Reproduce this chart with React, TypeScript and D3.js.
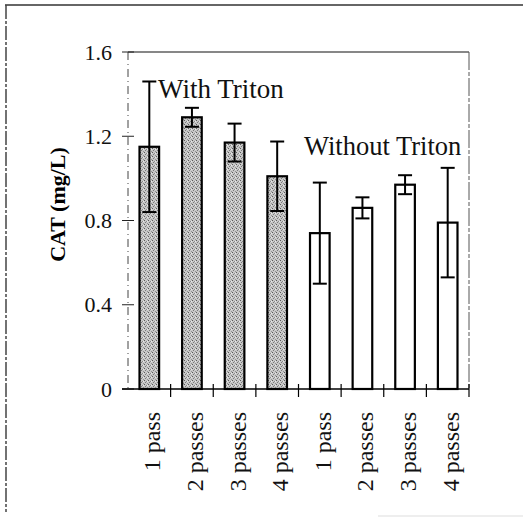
import React, { useEffect, useRef } from 'react';
import * as d3 from 'd3';

// values
const passLabels = ['1 pass', '2 passes', '3 passes', '4 passes'];
const withTriton = [1.15, 1.29, 1.17, 1.01];
const withTritonErr = [0.31, 0.045, 0.09, 0.165];
const withoutTriton = [0.74, 0.86, 0.97, 0.79];
const withoutTritonErr = [0.24, 0.05, 0.045, 0.26];
const yTicks = [0, 0.4, 0.8, 1.2, 1.6];

export default function App() {
  const ref = useRef<SVGSVGElement>(null);

  useEffect(() => {
    const svg = d3.select(ref.current);
    svg.selectAll('*').remove();

    const rows = [
      ...passLabels.map((p, i) => ({ key: 'w' + i, label: p, value: withTriton[i], err: withTritonErr[i], triton: true })),
      ...passLabels.map((p, i) => ({ key: 'o' + i, label: p, value: withoutTriton[i], err: withoutTritonErr[i], triton: false })),
    ];

    const left = 128, right = 469, top = 52, bottom = 389;
    const x = d3.scaleBand<string>().domain(rows.map(d => d.key)).range([left, right]).padding(0);
    const y = d3.scaleLinear().domain([0, 1.6]).range([bottom, top]);
    const barW = x.bandwidth() * 0.46;
    const capW = 14;
    const font = '"Liberation Serif", "Times New Roman", serif';

    // stipple fill for the Triton bars
    const defs = svg.append('defs');
    const pat = defs.append('pattern').attr('id', 'stipple').attr('patternUnits', 'userSpaceOnUse')
      .attr('width', 4).attr('height', 4);
    pat.append('rect').attr('width', 4).attr('height', 4).attr('fill', '#c8c8c8');
    [[0, 0, '#5a5a5a'], [2, 1, '#8a8a8a'], [1, 2, '#7a7a7a'], [3, 3, '#929292'], [3, 1, '#e8e8e8']].forEach(([px, py, c]) => {
      pat.append('rect').attr('x', px).attr('y', py).attr('width', 1).attr('height', 1).attr('fill', c as string);
    });

    // outer frame of the scan
    svg.append('line').attr('x1', 5).attr('x2', 523).attr('y1', 5).attr('y2', 5)
      .attr('stroke', '#333').attr('stroke-width', 1.5);
    svg.append('line').attr('x1', 6).attr('x2', 6).attr('y1', 5).attr('y2', 512)
      .attr('stroke', '#444').attr('stroke-width', 1.5).attr('stroke-dasharray', '14,2,3,2');
    svg.append('line').attr('x1', 378).attr('x2', 523).attr('y1', 516).attr('y2', 516)
      .attr('stroke', '#ddd').attr('stroke-width', 1);

    // plot frame
    svg.append('line').attr('x1', left).attr('x2', right).attr('y1', top).attr('y2', top)
      .attr('stroke', '#111').attr('stroke-width', 1.2);
    svg.append('line').attr('x1', right).attr('x2', right).attr('y1', top).attr('y2', bottom)
      .attr('stroke', '#555').attr('stroke-width', 1).attr('stroke-dasharray', '18,2,4,2');
    svg.append('line').attr('x1', left).attr('x2', left).attr('y1', top).attr('y2', bottom)
      .attr('stroke', '#444').attr('stroke-width', 1).attr('stroke-dasharray', '8,4,1,4');

    // y ticks
    const yAxis = svg.append('g');
    yAxis.selectAll('line').data(yTicks).enter().append('line')
      .attr('x1', left - 6).attr('x2', left + 6)
      .attr('y1', d => y(d)).attr('y2', d => y(d))
      .attr('stroke', '#222').attr('stroke-width', 1);
    yAxis.selectAll('text').data(yTicks).enter().append('text')
      .text(d => String(d))
      .attr('x', 112).attr('y', d => y(d))
      .attr('text-anchor', 'end').attr('dominant-baseline', 'central')
      .attr('font-family', font).attr('font-size', 22).attr('fill', '#111');

    svg.append('text').text('CAT (mg/L)')
      .attr('font-family', font).attr('font-size', 22).attr('font-weight', 'bold')
      .attr('text-anchor', 'middle').attr('dominant-baseline', 'central')
      .attr('transform', `translate(57,${(top + bottom) / 2 - 16}) rotate(-90)`);

    // bars
    const bars = svg.append('g');
    bars.selectAll('rect').data(rows).enter().append('rect')
      .attr('x', d => x(d.key)! + x.bandwidth() / 2 - barW / 2)
      .attr('width', barW)
      .attr('y', d => y(d.value))
      .attr('height', d => bottom - y(d.value))
      .attr('fill', d => d.triton ? 'url(#stipple)' : '#fff')
      .attr('stroke', '#000').attr('stroke-width', 2.2);

    // error bars
    const errs = svg.append('g');
    rows.forEach(d => {
      const cx = x(d.key)! + x.bandwidth() / 2;
      errs.append('line').attr('x1', cx).attr('x2', cx)
        .attr('y1', y(d.value + d.err)).attr('y2', y(d.value - d.err))
        .attr('stroke', '#000').attr('stroke-width', 2);
      [d.value + d.err, d.value - d.err].forEach(v => {
        errs.append('line').attr('x1', cx - capW / 2).attr('x2', cx + capW / 2)
          .attr('y1', y(v)).attr('y2', y(v))
          .attr('stroke', '#000').attr('stroke-width', 2);
      });
    });

    // x axis
    svg.append('line').attr('x1', left - 6).attr('x2', right).attr('y1', bottom).attr('y2', bottom)
      .attr('stroke', '#000').attr('stroke-width', 1.5);
    svg.append('g').selectAll('line').data(rows).enter().append('line')
      .attr('x1', d => x(d.key)! + x.bandwidth()).attr('x2', d => x(d.key)! + x.bandwidth())
      .attr('y1', bottom - 5).attr('y2', bottom + 8)
      .attr('stroke', '#000').attr('stroke-width', 1.2);
    svg.append('g').selectAll('text').data(rows).enter().append('text')
      .text(d => d.label)
      .attr('font-family', font).attr('font-size', 24).attr('fill', '#111')
      .attr('text-anchor', 'end').attr('dominant-baseline', 'central')
      .attr('transform', d => `translate(${x(d.key)! + x.bandwidth() / 2 + 3},412) rotate(-90)`);

    // group annotations
    svg.append('text').text('With Triton').attr('x', 158).attr('y', 98)
      .attr('font-family', font).attr('font-size', 27).attr('fill', '#111');
    svg.append('text').text('Without Triton').attr('x', 304).attr('y', 155)
      .attr('font-family', font).attr('font-size', 26.5).attr('fill', '#111');
  }, []);

  return (
    <svg ref={ref} width={523} height={518}
      style={{ position: 'absolute', left: 0, top: 0, background: '#fff' }} />
  );
}
